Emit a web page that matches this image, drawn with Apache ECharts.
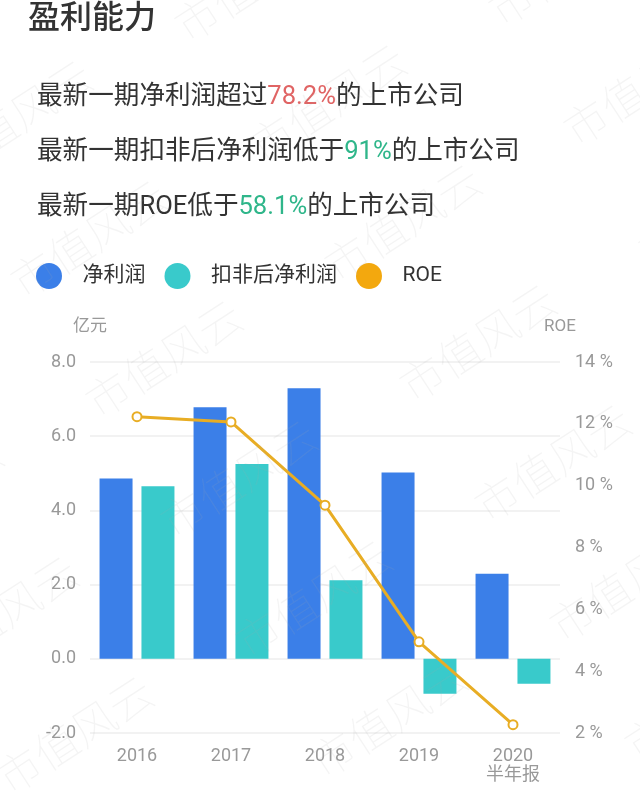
<!DOCTYPE html>
<html>
<head>
<meta charset="utf-8">
<script src="https://cdn.jsdelivr.net/npm/echarts@6/dist/echarts.min.js"></script>
<style>
html,body{margin:0;padding:0;background:#fff;}
#chart{width:640px;height:802px;}
</style>
</head>
<body>
<div id="chart"></div>
<script>
const categories = ['2016', '2017', '2018', '2019', '2020\n半年报'];
const netProfit = [4.86, 6.78, 7.29, 5.02, 2.29];
const deductedProfit = [4.65, 5.25, 2.12, -0.94, -0.67];
const roe = [12.23, 12.06, 9.37, 4.95, 2.27];
const leftTicks = { min: -2, max: 8, interval: 2 };
const rightTicks = { min: 2, max: 14, interval: 2 };

const FONT = 'Roboto, "Noto Sans CJK SC", sans-serif';
const C_BLUE = '#3b7fe8', C_TEAL = '#39cacb', C_ORANGE = '#f3a80e', C_LINE = '#e8ad24';
const richBase = {
  a: { fontSize: 25.6, color: '#333', fontWeight: 'normal', fontFamily: FONT },
  r: { fontSize: 25.6, color: '#e06464', fontWeight: 'normal', fontFamily: FONT },
  g: { fontSize: 25.6, color: '#2fb68a', fontWeight: 'normal', fontFamily: FONT }
};

// decorative watermark
const watermark = [];
for (let j = -4; j <= 4; j++) {
  for (let i = -2; i <= 2; i++) {
    const x = 102 + i * 314 + j * 75;
    const y = 425 - i * 16 + j * 120;
    if (x < -200 || x > 660 || y < -20 || y > 900) continue;
    watermark.push({
      type: 'text', x: x, y: y, rotation: 33 * Math.PI / 180, z: 100, silent: true,
      style: { text: '市值风云', fontSize: 44, fontWeight: 'lighter', fontFamily: '"Noto Sans CJK SC"',
               fill: 'rgba(170,170,170,0.13)', verticalAlign: 'bottom' }
    });
  }
}

const chart = echarts.init(document.getElementById('chart'), null, { renderer: 'canvas' });
chart.setOption({
  backgroundColor: '#fff',
  textStyle: { fontFamily: FONT },
  animation: false,
  title: [
    { text: '盈利能力', left: 28, top: 4, padding: 0,
      textStyle: { fontSize: 32, fontWeight: 500, color: '#333', fontFamily: FONT } },
    { text: '{a|最新一期净利润超过}{r|78.2%}{a|的上市公司}', left: 37, top: 85, padding: 0,
      textStyle: { fontWeight: 'normal', rich: richBase } },
    { text: '{a|最新一期扣非后净利润低于}{g|91%}{a|的上市公司}', left: 37, top: 140, padding: 0,
      textStyle: { fontWeight: 'normal', rich: richBase } },
    { text: '{a|最新一期ROE低于}{g|58.1%}{a|的上市公司}', left: 37, top: 195, padding: 0,
      textStyle: { fontWeight: 'normal', rich: richBase } }
  ],
  legend: {
    left: 36, top: 263, padding: 0,
    icon: 'circle', itemWidth: 57, itemHeight: 26, itemGap: 19,
    textStyle: { fontSize: 21, color: '#333', fontFamily: FONT },
    data: [
      { name: '净利润', itemStyle: { color: C_BLUE } },
      { name: '扣非后净利润', itemStyle: { color: C_TEAL } },
      { name: 'ROE', itemStyle: { color: C_ORANGE, borderWidth: 0 } }
    ]
  },
  grid: { left: 90, right: 80, top: 362, bottom: 69, containLabel: false },
  xAxis: {
    type: 'category', data: categories,
    axisLine: { show: false }, axisTick: { show: false },
    axisLabel: { fontSize: 18, color: '#999', margin: 14, lineHeight: 19 }
  },
  yAxis: [
    { type: 'value', min: leftTicks.min, max: leftTicks.max, interval: leftTicks.interval,
      name: '亿元', nameGap: 27, nameTextStyle: { fontSize: 17, color: '#999' },
      axisLine: { show: false }, axisTick: { show: false },
      axisLabel: { fontSize: 18, color: '#999', margin: 14, formatter: v => v.toFixed(1) },
      splitLine: { lineStyle: { color: '#eeeeee', width: 1.5 } } },
    { type: 'value', min: rightTicks.min, max: rightTicks.max, interval: rightTicks.interval,
      name: 'ROE', nameGap: 27, nameTextStyle: { fontSize: 17, color: '#999' },
      axisLine: { show: false }, axisTick: { show: false },
      axisLabel: { fontSize: 18, color: '#999', margin: 15, formatter: '{value} %' },
      splitLine: { show: false } }
  ],
  series: [
    { name: '净利润', type: 'bar', data: netProfit, barWidth: 33, barGap: '27%',
      itemStyle: { color: C_BLUE } },
    { name: '扣非后净利润', type: 'bar', data: deductedProfit, barWidth: 33, barGap: '27%',
      itemStyle: { color: C_TEAL } },
    { name: 'ROE', type: 'line', yAxisIndex: 1, data: roe,
      symbol: 'circle', symbolSize: 9,
      lineStyle: { color: C_LINE, width: 3 },
      itemStyle: { color: '#fff', borderColor: C_LINE, borderWidth: 2 } }
  ],
  graphic: watermark
});
</script>
</body>
</html>
